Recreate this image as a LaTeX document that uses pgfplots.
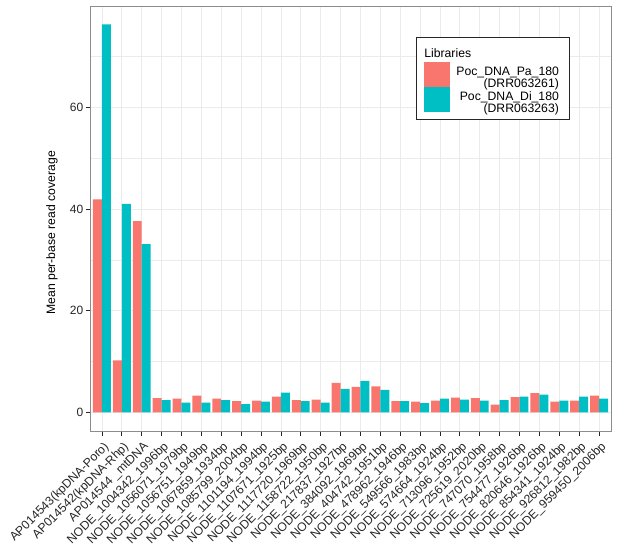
\documentclass[border=0pt]{standalone}
\usepackage{fontspec}
\setmainfont{Liberation Sans}
\usepackage{pgfplots}
\usepackage{pgfplotstable}
\pgfplotsset{compat=1.18}
\definecolor{cred}{HTML}{F8766D}
\definecolor{cteal}{HTML}{00BFC4}
\definecolor{gridc}{HTML}{EBEBEB}
\definecolor{borderc}{HTML}{8C8C8C}

\pgfplotstableread{
x pa di
0 41.9 76.3
1 10.2 41.0
2 37.6 33.1
3 2.8 2.4
4 2.7 1.9
5 3.3 1.9
6 2.7 2.4
7 2.2 1.6
8 2.3 2.1
9 3.1 3.9
10 2.4 2.2
11 2.5 1.9
12 5.8 4.6
13 5.0 6.2
14 5.1 4.4
15 2.2 2.2
16 2.1 1.8
17 2.3 2.7
18 2.9 2.5
19 2.8 2.3
20 1.5 2.4
21 3.0 3.1
22 3.8 3.5
23 2.1 2.3
24 2.3 3.1
25 3.3 2.7
}\cov

\begin{document}
\begin{tikzpicture}
\begin{axis}[
  at={(0,0)}, anchor=south west,
  scale only axis, width=521pt, height=425.7pt,
  xmin=-0.6, xmax=25.6, ymin=-3.8, ymax=79.9,
  ybar,
  xtick={0,...,25},
  xticklabels={AP014543(kpDNA-Poro),AP014542(kpDNA-Rhp),AP014544 \_mtDNA,
    NODE\_1004342\_1996bp,NODE\_1056071\_1979bp,NODE\_1056751\_1949bp,
    NODE\_1067859\_1934bp,NODE\_1085799\_2004bp,NODE\_1101194\_1994bp,
    NODE\_1107671\_1925bp,NODE\_1117720\_1969bp,NODE\_1158722\_1950bp,
    NODE\_217837\_1927bp,NODE\_384092\_1969bp,NODE\_404742\_1951bp,
    NODE\_478962\_1946bp,NODE\_549566\_1983bp,NODE\_574664\_1924bp,
    NODE\_713096\_1952bp,NODE\_725619\_2020bp,NODE\_747070\_1958bp,
    NODE\_754477\_1926bp,NODE\_820646\_1926bp,NODE\_854341\_1924bp,
    NODE\_926812\_1982bp,NODE\_959450\_2006bp},
  ytick={0,20,40,60}, minor ytick={10,30,50,70},
  xmajorgrids, ymajorgrids, yminorgrids,
  major grid style={gridc, line width=0.8pt},
  minor grid style={gridc, line width=0.5pt},
  tick pos=left, tick align=outside,
  major tick length=4pt, minor tick length=0pt,
  tick style={black!85, line width=0.8pt},
  axis line style={borderc, line width=0.8pt},
  ticklabel style={font=\fontsize{12}{13}\selectfont, text=black!85},
  xticklabel style={font=\fontsize{12.2}{13}\selectfont, yshift=-3pt, xshift=1pt, rotate=45, anchor=north east, inner sep=1.5pt},
  /pgf/number format/assume math mode=true,
  yticklabel style={inner sep=2.5pt},
  ylabel={Mean per-base read coverage},
  ylabel style={font=\fontsize{12.2}{14}\selectfont, at={(axis description cs:-0.073,0.467)}, anchor=center},
  legend style={at={(rel axis cs:0.626,0.927)}, anchor=north west,
    draw=black!85, line width=0.6pt, fill=white,
    inner xsep=8pt, inner ysep=7pt, row sep=0pt, column sep=6pt,
    font=\fontsize{12.2}{12.5}\selectfont, nodes={inner sep=0pt}},
  legend cell align=right,
  legend image code/.code={\fill[#1] (0pt,-12.5pt) rectangle (26pt,12.5pt);},
]
\addlegendimage{legend image code/.code={\path[draw=none,fill=none] (0pt,-9pt) rectangle (26pt,9pt);}}
\addlegendentry{\llap{\makebox[136pt][l]{Libraries}}}
\addplot[fill=cred, draw=none, bar width=0.45, bar shift=-0.225] table[x=x, y=pa] {\cov};
\addlegendentry{\begin{tabular}{@{}r@{\hspace{2pt}}}Poc\_DNA\_Pa\_180\\(DRR063261)\end{tabular}}
\addplot[fill=cteal, draw=none, bar width=0.45, bar shift=0.225] table[x=x, y=di] {\cov};
\addlegendentry{\begin{tabular}{@{}r@{\hspace{2pt}}}Poc\_DNA\_Di\_180\hspace{5.7pt}\\(DRR063263)\end{tabular}}
\end{axis}
\pgfresetboundingbox
\path (-90pt,-116.3pt) rectangle (527pt,431.7pt);
\end{tikzpicture}
\end{document}
